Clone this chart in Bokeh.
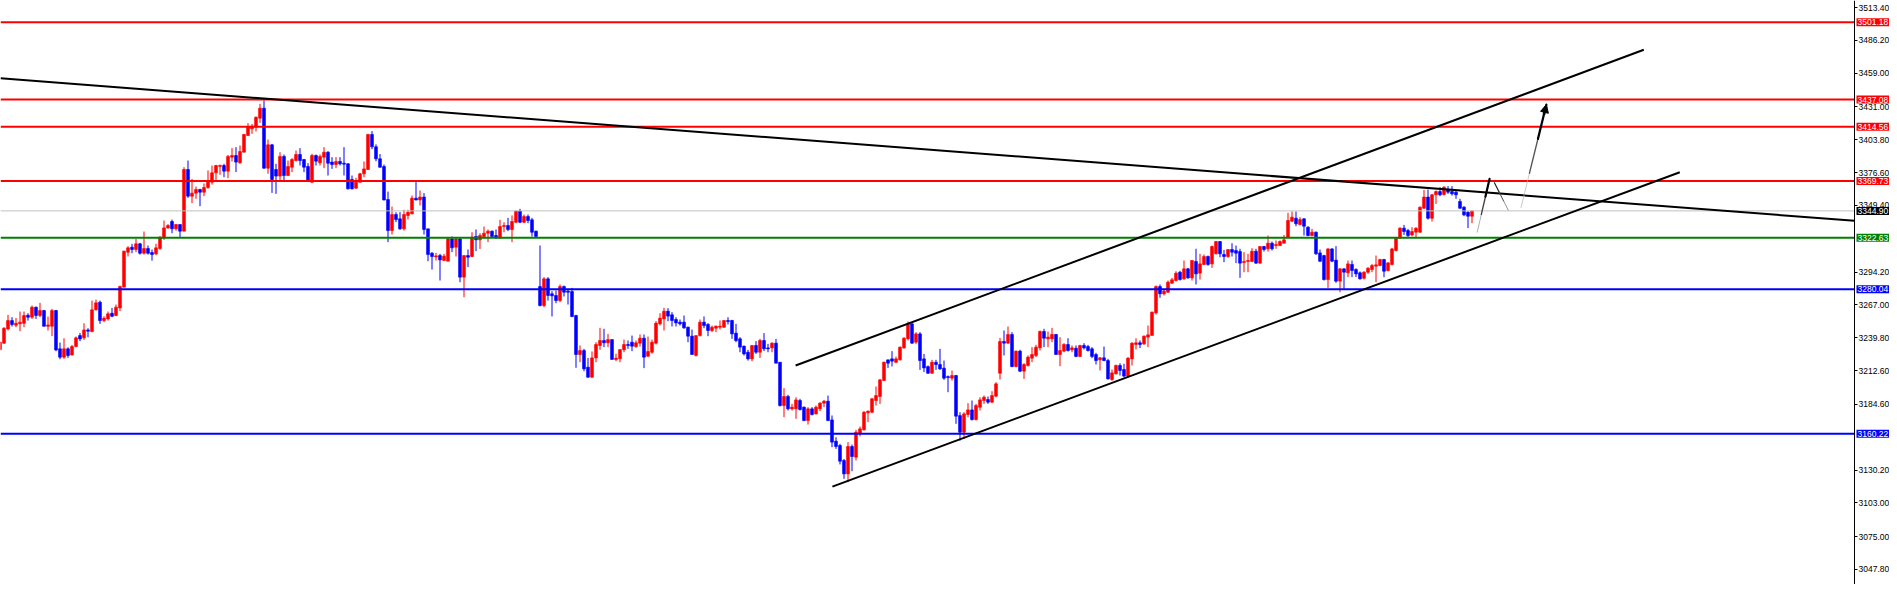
from bokeh.plotting import figure
from bokeh.models import (Range1d, LinearAxis, FixedTicker, NumeralTickFormatter,
                          Label, Arrow, NormalHead, ColumnDataSource)
from bokeh.embed import file_html
from bokeh.resources import INLINE

# ---------------- data ----------------
opens = [
 3230.0, 3235.3, 3247.1, 3254.0, 3250.2, 3251.3, 3251.8, 3258.5, 3256.8, 3265.1,
 3258.2, 3262.3, 3249.3, 3249.3, 3262.3, 3230.6, 3223.7, 3230.6, 3225.6, 3232.5,
 3241.6, 3239.7, 3246.3, 3244.9, 3262.9, 3269.2, 3254.0, 3255.4, 3260.1, 3258.2,
 3264.5, 3281.7, 3310.7, 3314.8, 3312.9, 3317.6, 3309.8, 3313.7, 3310.4, 3309.3,
 3313.7, 3322.5, 3330.8, 3336.1, 3330.0, 3333.6, 3328.1, 3379.2, 3357.1, 3359.6,
 3362.6, 3360.4, 3364.3, 3368.7, 3376.4, 3381.7, 3382.5, 3377.8, 3389.4, 3390.8,
 3384.7, 3393.5, 3407.4, 3412.9, 3414.3, 3421.7, 3430.0, 3380.3, 3399.6, 3379.2,
 3373.7, 3390.0, 3374.2, 3381.1, 3386.6, 3391.6, 3387.4, 3381.7, 3368.7, 3390.8,
 3384.7, 3389.4, 3393.5, 3385.3, 3383.3, 3385.8, 3384.4, 3383.9, 3370.9, 3363.7,
 3368.7, 3375.6, 3379.2, 3408.2, 3398.0, 3388.0, 3381.7, 3354.3, 3328.6, 3341.9,
 3338.3, 3330.0, 3341.1, 3342.5, 3355.4, 3354.0, 3356.3, 3330.0, 3309.9, 3306.8,
 3307.9, 3303.8, 3303.2, 3321.7, 3314.8, 3321.7, 3290.0, 3307.9, 3307.1, 3323.7,
 3320.9, 3323.7, 3326.4, 3328.1, 3324.5, 3322.5, 3331.9, 3332.8, 3329.5, 3335.5,
 3344.7, 3335.5, 3340.2, 3337.5, 3328.1, 3282.2, 3266.5, 3288.6, 3276.2, 3274.8,
 3270.6, 3282.2, 3278.4, 3278.1, 3258.2, 3225.9, 3229.2, 3215.4, 3207.1, 3223.1,
 3233.4, 3237.5, 3235.6, 3238.3, 3221.8, 3222.4, 3229.8, 3234.2, 3236.1, 3232.5,
 3235.3, 3239.4, 3224.5, 3227.8, 3235.3, 3251.3, 3255.4, 3261.8, 3258.8, 3254.9,
 3252.7, 3252.7, 3248.5, 3241.1, 3225.1, 3241.6, 3252.7, 3250.8, 3245.8, 3247.7,
 3248.5, 3248.5, 3254.1, 3254.1, 3243.6, 3238.9, 3232.8, 3227.8, 3222.3, 3233.4,
 3227.8, 3237.5, 3231.4, 3231.4, 3235.3, 3219.5, 3183.6, 3191.1, 3180.9, 3180.9,
 3187.8, 3182.3, 3171.2, 3180.9, 3176.7, 3180.9, 3185.6, 3187.2, 3171.7, 3154.1,
 3150.5, 3138.1, 3127.0, 3149.7, 3140.8, 3160.7, 3163.5, 3177.6, 3178.1, 3187.8,
 3191.1, 3204.4, 3221.5, 3222.3, 3219.5, 3221.5, 3231.4, 3238.9, 3251.3, 3236.1,
 3243.0, 3222.3, 3215.9, 3210.4, 3219.5, 3217.6, 3214.6, 3207.6, 3206.3, 3208.5,
 3175.3, 3161.5, 3176.2, 3180.0, 3172.0, 3182.2, 3187.8, 3188.6, 3186.4, 3191.4,
 3210.4, 3236.7, 3235.3, 3242.5, 3215.9, 3228.7, 3212.1, 3216.8, 3222.9, 3225.1,
 3231.4, 3245.0, 3238.9, 3238.9, 3242.5, 3225.9, 3228.7, 3234.2, 3229.8, 3231.1,
 3224.3, 3233.4, 3232.5, 3230.6, 3225.9, 3221.5, 3223.2, 3220.9, 3205.2, 3209.9,
 3216.8, 3213.5, 3208.0, 3222.3, 3234.2, 3235.6, 3234.7, 3240.3, 3241.7, 3260.4,
 3282.2, 3276.2, 3277.5, 3285.0, 3287.2, 3294.1, 3288.6, 3296.9, 3289.4, 3303.0,
 3293.3, 3300.5, 3307.1, 3301.0, 3309.3, 3319.5, 3308.8, 3307.1, 3312.9, 3312.1,
 3311.2, 3302.1, 3303.0, 3303.0, 3311.5, 3301.6, 3315.4, 3313.5, 3318.1, 3316.2,
 3316.2, 3318.1, 3323.1, 3336.4, 3338.8, 3333.6, 3338.3, 3331.4, 3324.5, 3327.3,
 3310.1, 3307.9, 3288.0, 3313.4, 3304.1, 3286.7, 3296.9, 3293.6, 3300.5, 3296.3,
 3293.6, 3289.1, 3294.1, 3296.3, 3299.1, 3299.6, 3304.6, 3295.5, 3300.5, 3312.1,
 3322.3, 3330.6, 3328.6, 3325.0, 3327.3, 3327.3, 3347.1, 3356.3, 3338.8, 3358.2,
 3360.9, 3358.5, 3362.3, 3360.9, 3360.4, 3352.7, 3348.0, 3343.8, 3340.5]

highs = [
 3236.9, 3248.5, 3258.7, 3256.8, 3256.2, 3261.5, 3261.5, 3260.1, 3266.5, 3265.6,
 3268.7, 3262.9, 3257.3, 3263.7, 3262.9, 3235.8, 3239.4, 3231.9, 3233.9, 3240.8,
 3243.8, 3251.8, 3247.7, 3270.6, 3271.4, 3270.6, 3257.6, 3261.5, 3264.5, 3267.3,
 3283.0, 3312.0, 3315.6, 3317.6, 3321.7, 3318.4, 3327.8, 3316.2, 3312.9, 3317.6,
 3323.9, 3336.9, 3333.9, 3337.7, 3334.1, 3333.6, 3381.1, 3386.6, 3371.4, 3365.1,
 3363.2, 3367.6, 3378.4, 3382.5, 3383.0, 3383.3, 3383.9, 3391.3, 3396.9, 3397.7,
 3399.1, 3408.7, 3417.6, 3417.0, 3423.1, 3433.6, 3436.4, 3404.0, 3400.4, 3383.9,
 3393.5, 3391.6, 3386.6, 3388.6, 3394.9, 3396.9, 3388.0, 3384.4, 3392.2, 3391.6,
 3391.6, 3397.7, 3394.4, 3389.4, 3389.4, 3389.4, 3397.7, 3384.4, 3374.2, 3372.3,
 3376.4, 3385.8, 3408.7, 3411.0, 3400.0, 3392.0, 3383.3, 3360.9, 3348.5, 3343.8,
 3343.8, 3345.8, 3345.8, 3357.6, 3368.7, 3361.8, 3359.6, 3330.0, 3310.7, 3310.1,
 3309.3, 3309.3, 3322.5, 3323.7, 3322.5, 3322.3, 3307.9, 3312.9, 3327.2, 3329.5,
 3326.4, 3331.9, 3329.5, 3328.6, 3329.5, 3337.5, 3335.5, 3339.1, 3341.1, 3345.2,
 3346.6, 3341.9, 3341.9, 3339.1, 3328.6, 3316.2, 3290.0, 3290.0, 3278.4, 3278.9,
 3283.9, 3283.1, 3279.5, 3281.1, 3258.8, 3233.4, 3230.6, 3223.1, 3228.4, 3236.1,
 3248.0, 3247.2, 3243.0, 3238.3, 3226.5, 3230.0, 3238.3, 3237.5, 3241.6, 3237.5,
 3242.5, 3242.5, 3240.8, 3238.3, 3253.5, 3260.1, 3264.6, 3264.3, 3261.0, 3256.8,
 3254.9, 3258.2, 3249.1, 3246.6, 3241.6, 3254.9, 3257.4, 3251.9, 3249.9, 3249.9,
 3254.1, 3254.1, 3256.8, 3254.6, 3251.3, 3240.3, 3233.4, 3229.8, 3233.4, 3237.0,
 3238.9, 3243.6, 3234.7, 3236.1, 3238.9, 3219.5, 3198.0, 3192.5, 3185.0, 3190.5,
 3189.2, 3182.8, 3182.3, 3182.3, 3183.6, 3186.4, 3188.3, 3191.9, 3175.4, 3157.4,
 3151.9, 3139.4, 3153.3, 3151.3, 3163.5, 3166.2, 3179.0, 3179.5, 3190.0, 3199.4,
 3205.7, 3220.1, 3221.5, 3228.7, 3224.2, 3232.5, 3240.3, 3253.2, 3252.7, 3244.4,
 3244.4, 3226.4, 3216.8, 3221.5, 3221.5, 3230.6, 3220.9, 3208.5, 3212.6, 3209.0,
 3178.1, 3178.1, 3185.6, 3187.8, 3185.0, 3190.5, 3191.9, 3191.1, 3195.5, 3203.0,
 3239.7, 3245.8, 3249.1, 3244.4, 3229.2, 3229.8, 3218.7, 3225.1, 3232.0, 3233.9,
 3245.8, 3247.2, 3245.0, 3248.0, 3243.0, 3240.3, 3235.3, 3239.4, 3233.4, 3233.4,
 3233.9, 3235.3, 3233.9, 3232.0, 3227.3, 3223.7, 3232.5, 3222.3, 3213.5, 3217.6,
 3218.7, 3218.2, 3223.7, 3236.1, 3239.4, 3237.5, 3241.7, 3249.9, 3261.5, 3283.1,
 3283.9, 3280.3, 3287.2, 3289.4, 3294.9, 3295.2, 3303.8, 3297.7, 3303.8, 3313.5,
 3309.3, 3308.8, 3307.9, 3316.2, 3319.8, 3319.8, 3312.6, 3312.9, 3318.1, 3316.2,
 3313.5, 3310.7, 3309.3, 3314.0, 3313.5, 3315.4, 3315.9, 3324.5, 3319.5, 3320.4,
 3320.4, 3325.0, 3343.3, 3344.4, 3344.4, 3339.7, 3338.8, 3332.2, 3330.0, 3327.8,
 3312.9, 3308.5, 3314.0, 3314.0, 3315.7, 3297.4, 3297.4, 3303.8, 3303.8, 3297.4,
 3294.7, 3294.9, 3298.3, 3301.0, 3307.9, 3305.2, 3305.2, 3302.4, 3314.3, 3323.1,
 3331.4, 3333.3, 3330.0, 3331.4, 3331.4, 3348.5, 3362.3, 3362.6, 3359.0, 3361.8,
 3364.5, 3365.4, 3365.4, 3365.4, 3362.3, 3354.9, 3348.8, 3344.7, 3344.9]

lows = [
 3229.2, 3234.7, 3245.8, 3249.1, 3248.5, 3245.2, 3248.5, 3254.0, 3255.4, 3255.4,
 3256.8, 3249.1, 3245.8, 3241.1, 3228.6, 3222.0, 3222.3, 3223.1, 3225.0, 3231.9,
 3236.9, 3238.0, 3240.2, 3244.4, 3262.3, 3251.3, 3252.7, 3254.0, 3256.8, 3257.6,
 3261.8, 3281.7, 3307.1, 3309.8, 3310.7, 3308.7, 3308.7, 3308.7, 3303.7, 3308.2,
 3312.6, 3320.9, 3330.0, 3326.4, 3328.6, 3322.5, 3328.1, 3355.7, 3351.3, 3354.9,
 3348.8, 3357.1, 3363.2, 3366.7, 3370.1, 3374.8, 3372.8, 3372.0, 3385.8, 3377.0,
 3383.9, 3393.5, 3406.8, 3408.7, 3410.7, 3417.8, 3379.7, 3375.6, 3359.8, 3359.0,
 3370.1, 3370.1, 3373.7, 3377.0, 3385.8, 3382.5, 3377.0, 3368.7, 3367.9, 3382.5,
 3382.5, 3380.3, 3374.2, 3379.7, 3380.3, 3382.5, 3374.2, 3362.6, 3362.6, 3363.2,
 3368.1, 3372.8, 3378.9, 3396.0, 3386.0, 3380.6, 3353.5, 3319.0, 3325.3, 3335.5,
 3329.2, 3328.6, 3337.7, 3341.9, 3353.5, 3349.4, 3325.3, 3303.2, 3296.3, 3303.8,
 3287.2, 3303.8, 3303.2, 3310.7, 3307.1, 3285.8, 3273.4, 3298.3, 3306.5, 3311.5,
 3313.4, 3322.3, 3319.0, 3322.5, 3321.7, 3321.7, 3327.2, 3328.1, 3319.0, 3334.7,
 3334.7, 3334.7, 3334.7, 3323.7, 3323.1, 3265.7, 3265.1, 3270.6, 3257.4, 3268.4,
 3269.3, 3274.0, 3267.3, 3256.8, 3214.9, 3219.5, 3212.1, 3206.6, 3206.6, 3219.5,
 3229.8, 3232.0, 3232.0, 3221.8, 3220.4, 3219.5, 3227.8, 3230.6, 3228.7, 3231.4,
 3232.5, 3214.6, 3223.7, 3226.5, 3234.2, 3249.9, 3245.8, 3253.5, 3249.1, 3249.1,
 3249.9, 3247.2, 3236.1, 3225.9, 3224.2, 3240.8, 3247.7, 3241.1, 3244.4, 3244.4,
 3246.6, 3248.0, 3250.8, 3238.9, 3236.1, 3227.8, 3225.1, 3220.9, 3220.4, 3226.4,
 3223.1, 3228.7, 3227.8, 3227.8, 3218.7, 3182.8, 3174.0, 3179.5, 3179.5, 3172.6,
 3179.5, 3170.7, 3167.9, 3175.4, 3176.2, 3178.9, 3182.3, 3170.7, 3149.1, 3147.7,
 3134.8, 3122.9, 3120.1, 3129.2, 3138.1, 3158.0, 3162.9, 3169.8, 3177.3, 3183.6,
 3185.0, 3203.8, 3214.8, 3216.0, 3218.7, 3220.9, 3230.6, 3237.5, 3234.7, 3234.7,
 3213.2, 3211.3, 3209.9, 3209.9, 3213.2, 3213.2, 3204.9, 3194.7, 3204.3, 3168.5,
 3154.6, 3156.0, 3173.9, 3171.2, 3171.2, 3179.5, 3185.0, 3185.0, 3185.6, 3190.5,
 3205.2, 3225.1, 3234.7, 3215.4, 3215.4, 3211.3, 3205.7, 3215.9, 3219.5, 3223.7,
 3229.2, 3232.0, 3232.0, 3236.1, 3225.9, 3216.2, 3227.8, 3228.4, 3227.8, 3223.7,
 3223.7, 3230.1, 3228.4, 3222.9, 3217.6, 3212.7, 3220.4, 3205.2, 3204.1, 3209.3,
 3208.5, 3207.1, 3207.1, 3216.8, 3230.1, 3231.2, 3233.9, 3232.0, 3241.7, 3259.0,
 3272.9, 3274.8, 3276.9, 3284.4, 3286.4, 3287.2, 3287.8, 3288.6, 3287.2, 3283.9,
 3288.0, 3299.9, 3299.4, 3297.7, 3308.8, 3306.5, 3302.4, 3306.0, 3307.1, 3301.6,
 3289.4, 3294.1, 3294.1, 3302.4, 3301.0, 3301.0, 3311.2, 3311.2, 3312.1, 3313.5,
 3315.7, 3318.1, 3322.6, 3335.5, 3332.2, 3332.8, 3324.5, 3323.9, 3323.9, 3308.5,
 3302.4, 3287.2, 3281.1, 3302.4, 3285.3, 3277.5, 3280.3, 3290.0, 3290.0, 3290.0,
 3288.0, 3288.0, 3292.7, 3294.1, 3285.8, 3299.1, 3290.0, 3294.7, 3299.6, 3311.3,
 3321.7, 3325.0, 3323.1, 3323.9, 3323.1, 3326.7, 3346.6, 3337.7, 3336.1, 3350.7,
 3357.1, 3357.6, 3359.0, 3357.6, 3354.9, 3346.6, 3340.5, 3330.6, 3334.7]

closes = [
 3236.1, 3247.7, 3254.0, 3250.7, 3251.8, 3252.7, 3258.2, 3256.8, 3265.1, 3258.2,
 3262.3, 3249.3, 3250.4, 3262.3, 3229.7, 3223.7, 3230.6, 3225.0, 3232.5, 3239.7,
 3238.8, 3246.3, 3245.2, 3262.9, 3268.7, 3254.0, 3256.0, 3259.6, 3257.6, 3265.1,
 3282.2, 3311.5, 3314.3, 3312.9, 3317.6, 3309.8, 3313.7, 3309.8, 3308.7, 3314.3,
 3323.1, 3330.8, 3332.8, 3330.0, 3333.6, 3328.1, 3379.2, 3357.1, 3359.6, 3362.6,
 3360.4, 3364.3, 3368.7, 3376.4, 3382.5, 3382.5, 3377.8, 3390.0, 3390.8, 3385.3,
 3394.1, 3408.2, 3414.3, 3415.1, 3422.5, 3430.0, 3380.3, 3399.6, 3370.9, 3373.7,
 3390.0, 3374.2, 3381.7, 3387.4, 3391.6, 3386.6, 3381.1, 3369.5, 3390.8, 3386.1,
 3390.0, 3393.5, 3384.4, 3383.3, 3385.8, 3383.9, 3383.6, 3363.2, 3363.2, 3368.7,
 3375.6, 3379.7, 3408.2, 3398.0, 3388.0, 3381.1, 3354.0, 3328.6, 3341.9, 3337.7,
 3330.0, 3341.9, 3343.8, 3355.4, 3354.0, 3356.3, 3329.5, 3308.8, 3307.1, 3307.6,
 3304.3, 3307.4, 3321.7, 3314.3, 3321.7, 3290.0, 3307.9, 3306.5, 3323.1, 3320.9,
 3324.5, 3326.4, 3328.1, 3323.7, 3322.5, 3331.9, 3332.8, 3329.5, 3336.1, 3344.7,
 3335.5, 3340.2, 3336.9, 3327.2, 3323.7, 3266.5, 3288.6, 3274.8, 3274.5, 3270.6,
 3282.2, 3277.5, 3277.5, 3257.4, 3225.9, 3229.2, 3214.0, 3207.1, 3223.1, 3234.2,
 3237.5, 3235.6, 3238.3, 3221.8, 3222.9, 3230.0, 3234.2, 3233.4, 3232.8, 3235.6,
 3239.4, 3223.7, 3228.4, 3236.1, 3251.9, 3256.0, 3261.8, 3257.7, 3254.1, 3252.1,
 3251.3, 3248.0, 3241.1, 3225.9, 3241.6, 3252.7, 3249.9, 3245.8, 3248.5, 3249.4,
 3249.4, 3254.1, 3253.2, 3243.0, 3237.5, 3232.0, 3226.4, 3222.3, 3233.4, 3227.8,
 3237.5, 3230.6, 3230.6, 3235.3, 3218.7, 3183.6, 3191.1, 3180.9, 3182.3, 3188.3,
 3180.3, 3171.2, 3180.9, 3176.2, 3182.3, 3185.6, 3187.2, 3171.2, 3153.3, 3149.7,
 3137.5, 3127.0, 3149.7, 3141.4, 3161.5, 3164.3, 3178.1, 3179.0, 3189.2, 3191.9,
 3204.9, 3219.5, 3218.7, 3220.4, 3222.3, 3232.0, 3239.4, 3251.3, 3235.3, 3243.0,
 3220.9, 3214.8, 3210.4, 3219.5, 3217.6, 3214.0, 3206.3, 3206.8, 3208.5, 3174.8,
 3161.5, 3176.7, 3180.0, 3172.0, 3183.6, 3188.3, 3190.5, 3186.4, 3191.9, 3201.6,
 3236.7, 3235.3, 3242.5, 3215.9, 3228.7, 3212.1, 3217.6, 3223.7, 3225.9, 3232.0,
 3245.0, 3239.4, 3240.3, 3242.5, 3225.9, 3229.2, 3234.2, 3229.2, 3231.4, 3224.3,
 3233.4, 3231.4, 3229.2, 3224.3, 3220.9, 3223.2, 3220.9, 3205.7, 3210.7, 3216.8,
 3212.7, 3208.0, 3222.9, 3235.3, 3235.6, 3234.2, 3241.1, 3242.2, 3261.0, 3282.2,
 3276.2, 3278.4, 3285.8, 3287.8, 3293.3, 3288.0, 3296.9, 3289.4, 3303.8, 3292.7,
 3301.0, 3307.1, 3300.5, 3315.4, 3319.5, 3309.3, 3307.1, 3312.9, 3310.7, 3309.9,
 3301.6, 3303.0, 3303.8, 3311.5, 3301.6, 3315.4, 3312.9, 3318.1, 3313.5, 3317.0,
 3319.5, 3320.9, 3336.9, 3339.7, 3334.2, 3337.7, 3332.2, 3324.5, 3327.3, 3309.3,
 3303.2, 3288.0, 3313.4, 3303.2, 3286.7, 3296.9, 3294.1, 3301.0, 3295.5, 3292.7,
 3288.6, 3294.1, 3297.4, 3299.6, 3300.2, 3304.6, 3294.9, 3301.8, 3313.4, 3322.3,
 3330.6, 3327.8, 3324.5, 3327.8, 3330.6, 3348.0, 3356.3, 3338.8, 3358.2, 3360.9,
 3358.2, 3364.5, 3360.4, 3359.0, 3358.2, 3347.1, 3341.6, 3340.5, 3344.9]

# horizontal price levels and their tags
level_prices = [3501.18, 3437.08, 3414.56, 3369.73, 3344.90, 3322.63, 3280.04, 3160.22]
level_line_colors = ["#FF0000", "#FF0000", "#FF0000", "#FF0000", "#C0C0C0", "#008000", "#0000FF", "#0000FF"]
level_tag_colors = ["#FF0000", "#FF0000", "#FF0000", "#FF0000", "#000000", "#008000", "#0000FF", "#0000FF"]
level_line_widths = [2, 2, 2, 2, 1, 2, 2, 2]

# right-axis tick values
tick_values = [3513.40, 3486.20, 3459.00, 3431.00, 3403.80, 3376.60, 3349.40,
               3294.20, 3267.00, 3239.80, 3212.60, 3184.60, 3130.20, 3103.00,
               3075.00, 3047.80]

# trend lines (bar index, price)
trend_x = [0.125, 463.625]
trend_y = [3454.7, 3336.7]
upper_x = [198.9, 410.95]
upper_y = [3216.8, 3478.4]
lower_x = [208.1, 419.95]
lower_y = [3116.5, 3376.9]

# hand-drawn forecast path (bar index, price)
fc_x = [369.3, 372.4, 373.6, 377.05, 380.25, 386.6]
fc_y = [3327.2, 3371.5, 3368.2, 3345.6, 3347.7, 3433.0]

X_LEFT = 0.125      # left edge of the chart
AXIS_X = 463.625    # where the price scale sits
X_RIGHT = 472.375   # right edge of the canvas (room for the price scale)
Y_RANGE = (3035.36, 3519.2)

FONT = "Liberation Sans"
FONT_SIZE = "8.5px"

# ---------------- figure ----------------
p = figure(width=1889, height=584, output_backend="svg", toolbar_location=None,
           x_range=Range1d(X_LEFT, X_RIGHT), y_range=Range1d(*Y_RANGE),
           x_axis_location=None, y_axis_location=None,
           min_border_left=0, min_border_top=0, min_border_bottom=0, min_border_right=0,
           background_fill_color="white", border_fill_color="white",
           outline_line_color=None)
p.grid.visible = False

n = len(closes)
idx = list(range(n))
colors = ["#FF0000" if c >= o else "#0000FF" for o, c in zip(opens, closes)]
src = ColumnDataSource(dict(
    x=idx, o=opens, h=highs, l=lows, c=closes,
    top=[max(o, c) for o, c in zip(opens, closes)],
    bot=[min(o, c) for o, c in zip(opens, closes)],
    color=colors))

p.segment(x0="x", y0="l", x1="x", y1="h", source=src, line_color="color", line_width=1)
p.vbar(x="x", width=0.72, top="top", bottom="bot", source=src,
       fill_color="color", line_color="color", line_width=0.6)

# horizontal levels (stop at the price scale)
for lv, lc, lw in zip(level_prices, level_line_colors, level_line_widths):
    p.segment(x0=[X_LEFT], y0=[lv], x1=[AXIS_X], y1=[lv], line_color=lc, line_width=lw)

# trend lines
p.line(trend_x, trend_y, line_color="black", line_width=2)
p.line(upper_x, upper_y, line_color="black", line_width=2)
p.line(lower_x, lower_y, line_color="black", line_width=2)

# forecast strokes (tapered look)
def stroke(x0, y0, x1, y1, widths, cols):
    k = len(widths)
    for i in range(k):
        a, b = i / k, (i + 1) / k
        p.line([x0 + (x1 - x0) * a, x0 + (x1 - x0) * b],
               [y0 + (y1 - y0) * a, y0 + (y1 - y0) * b],
               line_width=widths[i], line_color=cols[i], line_cap="round")

stroke(fc_x[0], fc_y[0], fc_x[1], fc_y[1], [0.8, 1.4, 2.2], ["#9a9a9a", "#444444", "#000000"])
stroke(fc_x[2], fc_y[2], fc_x[3], fc_y[3], [1.2, 1.0, 0.8], ["#222222", "#444444", "#777777"])
stroke(fc_x[4], fc_y[4], fc_x[5], fc_y[5], [0.7, 1.4, 2.2], ["#b0b0b0", "#555555", "#000000"])
p.add_layout(Arrow(end=NormalHead(size=8, fill_color="black", line_color="black"),
                   x_start=fc_x[4] + (fc_x[5] - fc_x[4]) * 0.9,
                   y_start=fc_y[4] + (fc_y[5] - fc_y[4]) * 0.9,
                   x_end=fc_x[5], y_end=fc_y[5], line_width=2.5, line_color="black"))

# right price axis, pinned at AXIS_X
yax = LinearAxis(ticker=FixedTicker(ticks=tick_values, minor_ticks=[]),
                 formatter=NumeralTickFormatter(format="0.00"),
                 fixed_location=AXIS_X)
yax.axis_line_color = "black"
yax.axis_line_width = 1
yax.major_tick_in = 0
yax.major_tick_out = 3
yax.major_tick_line_color = "black"
yax.minor_tick_line_color = None
yax.major_label_standoff = 1
yax.major_label_text_font = FONT
yax.major_label_text_font_size = FONT_SIZE
yax.major_label_text_color = "black"
p.add_layout(yax, "right")

# price tags on the axis
for lv, tc in zip(level_prices, level_tag_colors):
    p.add_layout(Label(x=AXIS_X, y=lv, x_offset=2, text=f"{lv:.2f}",
                       text_align="left", text_baseline="middle",
                       text_color="white", text_font=FONT,
                       text_font_size=FONT_SIZE, background_fill_color=tc, padding=1))

open("out.html", "w").write(file_html(p, INLINE))
